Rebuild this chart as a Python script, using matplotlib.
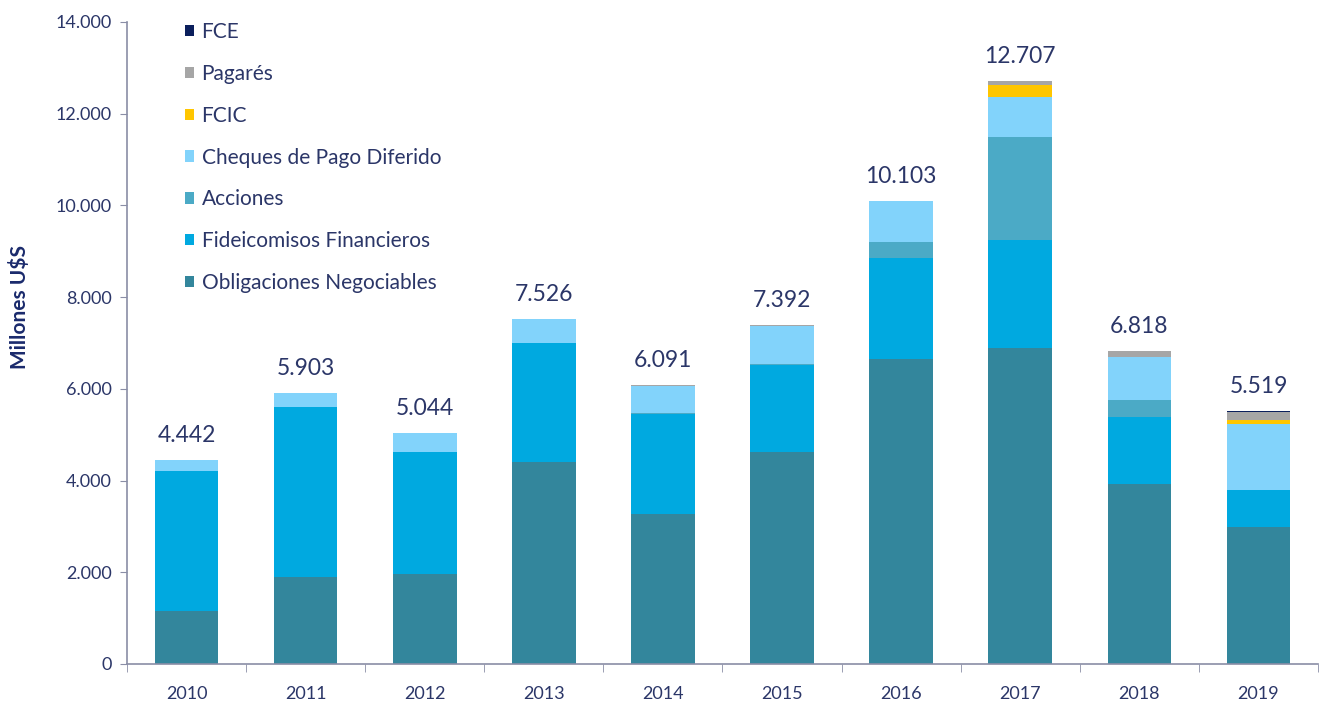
import numpy as np
import matplotlib
matplotlib.use("Agg")
import matplotlib.pyplot as plt
from matplotlib.patches import Patch
from matplotlib.ticker import FuncFormatter, FixedLocator

plt.rcParams['font.family'] = ['Lato', 'DejaVu Sans']

years = ["2010", "2011", "2012", "2013", "2014", "2015", "2016", "2017", "2018", "2019"]
totals = [4442, 5903, 5044, 7526, 6091, 7392, 10103, 12707, 6818, 5519]

# stacked series (millones U$S), bottom to top
obligaciones = [1150, 1890, 1960, 4400, 3260, 4630, 6640, 6900, 3930, 2990]
fideicomisos = [3060, 3710, 2670, 2590, 2190, 1890, 2220, 2350, 1460, 810]
acciones = [0, 0, 0, 0, 30, 30, 350, 2230, 360, 0]
cheques = [232, 303, 414, 536, 591, 822, 878, 882, 940, 1429]
fcic = [0, 0, 0, 0, 0, 0, 0, 255, 0, 100]
pagares = [0, 0, 0, 0, 20, 20, 15, 90, 128, 155]
fce = [0, 0, 0, 0, 0, 0, 0, 0, 0, 35]

series = [
    ("Obligaciones Negociables", obligaciones, "#33869c"),
    ("Fideicomisos Financieros", fideicomisos, "#00a9e0"),
    ("Acciones", acciones, "#4baac6"),
    ("Cheques de Pago Diferido", cheques, "#82d3fb"),
    ("FCIC", fcic, "#ffc600"),
    ("Pagarés", pagares, "#a6a6a6"),
    ("FCE", fce, "#0b1f5c"),
]

text_col = "#2b3668"
axis_col = "#8a8ea6"

fig = plt.figure(figsize=(13.22, 7.06), dpi=100)
ax = fig.add_axes([0.096, 0.0595, 0.901, 0.9095])

x = np.arange(len(years))
bottom = np.zeros(len(years))
for name, vals, col in series:
    vals = np.array(vals, dtype=float)
    ax.bar(x, vals, bottom=bottom, width=0.535, color=col, edgecolor="none", zorder=2)
    bottom += vals

for xi, tot, top in zip(x, totals, bottom):
    ax.annotate(f"{tot:,}".replace(",", "."), (xi, top), xytext=(0, 10),
                textcoords="offset points", ha="center", va="bottom",
                fontsize=16.5, color=text_col)

ax.set_xlim(-0.5, len(years) - 0.5)
ax.set_ylim(0, 14000)
ax.set_yticks(np.arange(0, 14001, 2000))
ax.yaxis.set_major_formatter(FuncFormatter(lambda v, p: f"{int(v):,}".replace(",", ".")))
ax.set_xticks(x)
ax.set_xticklabels(years)
ax.xaxis.set_minor_locator(FixedLocator(np.arange(-0.5, len(years), 1)))
ax.tick_params(axis="x", which="major", length=0, pad=16, labelsize=13, labelcolor=text_col)
ax.tick_params(axis="x", which="minor", length=6, color=axis_col, direction="out")
ax.tick_params(axis="y", length=5, color=axis_col, labelsize=13, labelcolor=text_col, pad=6)

for s in ["top", "right"]:
    ax.spines[s].set_visible(False)
for s in ["left", "bottom"]:
    ax.spines[s].set_color(axis_col)
    ax.spines[s].set_linewidth(1.2)

ax.set_ylabel("Millones U$S", fontsize=15, fontweight="bold", color="#1a2a6c")
ax.yaxis.set_label_coords(-0.0816, 0.556)

handles = [Patch(facecolor=col, label=name) for name, vals, col in series][::-1]
ax.legend(handles=handles, loc="upper left", bbox_to_anchor=(0.0487, 1.0), frameon=False,
          fontsize=15, labelcolor=text_col, handlelength=0.45, handleheight=0.45,
          handletextpad=0.35, labelspacing=1.05, borderpad=0, borderaxespad=0)

fig.savefig("out.png", dpi=100)
